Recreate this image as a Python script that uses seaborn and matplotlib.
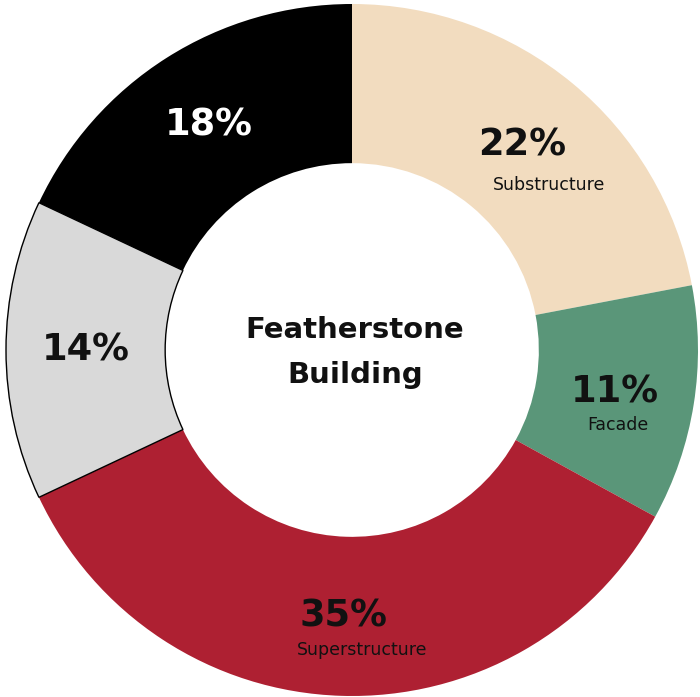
import numpy as np
import matplotlib
matplotlib.use("Agg")
import matplotlib.pyplot as plt
import seaborn as sns

# Cost share per building element (clockwise from 12 o'clock)
categories = ["Substructure", "Facade", "Superstructure", "Other A", "Other B"]
shares = [22, 11, 35, 14, 18]
show_name = [True, True, True, False, False]
colors = ["#F2DCBF", "#5A9679", "#AE2032", "#D9D9D9", "#000000"]
edge_colors = ["none", "none", "none", "#000000", "none"]
pct_colors = ["#111111", "#111111", "#111111", "#111111", "#FFFFFF"]
title_lines = ["Featherstone", "Building"]

sns.set_style("white")
plt.rcParams["font.family"] = ["DejaVu Sans"]

W, H, DPI = 700, 697, 100
fig = plt.figure(figsize=(W / DPI, H / DPI), dpi=DPI)
ax = fig.add_axes([0, 0, 1, 1])

R_OUT = 1.0
WIDTH = 0.46
wedges, _ = ax.pie(
    shares, colors=colors, startangle=90, counterclock=False,
    radius=R_OUT, wedgeprops=dict(width=WIDTH, linewidth=0),
)
for w, ec in zip(wedges, edge_colors):
    if ec != "none":
        w.set_edgecolor(ec)
        w.set_linewidth(1.0)

# pixel scale: outer radius ~346 px, centre at (352, 350) from top-left
px = 346.0
cx, cy = 352.0, 350.0
ax.set_xlim(-cx / px, (W - cx) / px)
ax.set_ylim(-(H - cy) / px, cy / px)
ax.set_aspect("auto")
ax.axis("off")

r_mid = R_OUT - WIDTH / 2
name_dx = {"Substructure": 27, "Facade": 3, "Superstructure": 18}
name_dy = {"Substructure": 40, "Facade": 33, "Superstructure": 34}
cum = np.cumsum([0] + shares[:-1])
for cat, v, c0, shown, pc in zip(categories, shares, cum, show_name, pct_colors):
    ang = np.deg2rad(90 - (c0 + v / 2) * 3.6)
    x, y = r_mid * np.cos(ang), r_mid * np.sin(ang)
    ax.text(x, y, f"{v}%", ha="center", va="center", fontsize=26.5,
            fontweight="bold", color=pc)
    if shown:
        ax.text(x + name_dx[cat] / px, y - name_dy[cat] / px, cat,
                ha="center", va="center", fontsize=12.5, color="#111111")

ax.text(3 / px, 20 / px, title_lines[0], ha="center", va="center",
        fontsize=21, fontweight="bold", color="#111111")
ax.text(3 / px, -25 / px, title_lines[1], ha="center", va="center",
        fontsize=21, fontweight="bold", color="#111111")

fig.savefig("out.png", dpi=DPI, facecolor="white")
